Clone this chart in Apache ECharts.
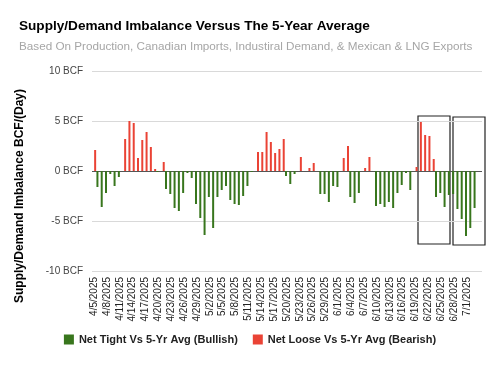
<!DOCTYPE html>
<html>
<head>
<meta charset="utf-8">
<script src="https://cdn.jsdelivr.net/npm/echarts@6/dist/echarts.min.js"></script>
<style>
  html, body { margin: 0; padding: 0; background: #fff; }
  #chart { width: 500px; height: 365px; }
</style>
</head>
<body>
<div id="chart"></div>
<script>
// dates, one bar per day (7/4 has no reading yet)
const dates = [
  '4/5/2025','4/6/2025','4/7/2025','4/8/2025','4/9/2025','4/10/2025','4/11/2025','4/12/2025','4/13/2025','4/14/2025',
  '4/15/2025','4/16/2025','4/17/2025','4/18/2025','4/19/2025','4/20/2025','4/21/2025','4/22/2025','4/23/2025','4/24/2025',
  '4/25/2025','4/26/2025','4/27/2025','4/28/2025','4/29/2025','4/30/2025','5/1/2025','5/2/2025','5/3/2025','5/4/2025',
  '5/5/2025','5/6/2025','5/7/2025','5/8/2025','5/9/2025','5/10/2025','5/11/2025','5/12/2025','5/13/2025','5/14/2025',
  '5/15/2025','5/16/2025','5/17/2025','5/18/2025','5/19/2025','5/20/2025','5/21/2025','5/22/2025','5/23/2025','5/24/2025',
  '5/25/2025','5/26/2025','5/27/2025','5/28/2025','5/29/2025','5/30/2025','5/31/2025','6/1/2025','6/2/2025','6/3/2025',
  '6/4/2025','6/5/2025','6/6/2025','6/7/2025','6/8/2025','6/9/2025','6/10/2025','6/11/2025','6/12/2025','6/13/2025',
  '6/14/2025','6/15/2025','6/16/2025','6/17/2025','6/18/2025','6/19/2025','6/20/2025','6/21/2025','6/22/2025','6/23/2025',
  '6/24/2025','6/25/2025','6/26/2025','6/27/2025','6/28/2025','6/29/2025','6/30/2025','7/1/2025','7/2/2025','7/3/2025',
  '7/4/2025'
];

// BCF/day vs 5-yr average (negative = tight, positive = loose)
const imbalance = [
  2.1, -1.6, -3.6, -2.2, -0.3, -1.5, -0.6, 3.2, 5.0, 4.8,
  1.3, 3.1, 3.9, 2.4, 0.2, -0.1, 0.9, -1.8, -2.3, -3.7,
  -4.0, -2.2, -0.2, -0.7, -3.3, -4.7, -6.4, -2.6, -5.7, -2.6,
  -1.9, -1.5, -2.9, -3.3, -3.4, -2.5, -1.5, -0.1, 1.9, 1.9,
  3.9, 2.9, 1.8, 2.2, 3.2, -0.5, -1.3, -0.3, 1.4, null,
  0.3, 0.8, null, -2.3, -2.3, -3.1, -1.5, -1.6, 1.3, 2.5,
  -2.6, -3.2, -2.2, 0.3, 1.4, null, -3.5, -3.3, -3.6, -3.1,
  -3.7, -2.2, -1.4, -0.2, -1.9, 0.4, 4.9, 3.6, 3.5, 1.2,
  -2.6, -2.2, -3.6, -2.4, -2.3, -3.8, -4.8, -6.5, -5.7, -3.7,
  null
];

const yTicks = [-10, -5, 0, 5, 10];
const seriesNames = ['Net Tight Vs 5-Yr Avg (Bullish)', 'Net Loose Vs 5-Yr Avg (Bearish)'];

const tight = imbalance.map(v => (v !== null && v < 0) ? v : null);
const loose = imbalance.map(v => (v !== null && v > 0) ? v : null);

const font = '"Liberation Sans", Arial, sans-serif';
const chart = echarts.init(document.getElementById('chart'));

const option = {
  animation: false,
  textStyle: { fontFamily: font },
  title: {
    text: 'Supply/Demand Imbalance Versus The 5-Year Average',
    subtext: 'Based On Production, Canadian Imports, Industiral Demand, & Mexican & LNG Exports',
    left: 14,
    top: 14,
    itemGap: 8,
    textStyle: { fontFamily: font, fontSize: 13.6, fontWeight: 'bold', color: '#000' },
    subtextStyle: { fontFamily: font, fontSize: 11.7, color: '#a6a6a6' }
  },
  legend: {
    data: seriesNames,
    bottom: 15,
    left: 'center',
    itemWidth: 10,
    itemHeight: 10,
    itemGap: 15,
    icon: 'rect',
    textStyle: { fontFamily: font, fontSize: 11, fontWeight: 'bold', color: '#222' }
  },
  grid: { left: 92, right: 18, top: 71, bottom: 94 },
  xAxis: {
    type: 'category',
    data: dates,
    axisLine: { show: false },
    axisTick: { show: false },
    axisLabel: {
      rotate: 90,
      fontSize: 10,
      color: '#222',
      margin: 6,
      interval: (i) => i % 3 === 0 && i < 90
    }
  },
  yAxis: {
    type: 'value',
    min: yTicks[0],
    max: yTicks[yTicks.length - 1],
    interval: 5,
    name: 'Supply/Demand Imbalance BCF/(Day)',
    nameLocation: 'middle',
    nameRotate: 90,
    nameGap: 66,
    nameTextStyle: { fontFamily: font, fontSize: 12, fontWeight: 'bold', color: '#000', padding: [0, 50, 0, 0] },
    axisLine: { show: false },
    axisTick: { show: false },
    axisLabel: { fontSize: 10, color: '#444', margin: 9, formatter: v => v + ' BCF' },
    splitLine: { lineStyle: { color: ['#d9d9d9', '#d9d9d9', '#555', '#d9d9d9', '#d9d9d9'], width: 1 } }
  },
  series: [
    {
      name: seriesNames[0],
      type: 'bar',
      data: tight,
      barWidth: 2,
      barGap: '0%',
      itemStyle: { color: '#38761d' }
    },
    {
      name: seriesNames[1],
      type: 'bar',
      data: loose,
      barWidth: 2,
      itemStyle: { color: '#ea4335' }
    }
  ],
  graphic: [
    { type: 'rect', shape: { x: 418, y: 116, width: 32, height: 128 }, style: { fill: 'none', stroke: '#222', lineWidth: 1.2 } },
    { type: 'rect', shape: { x: 453, y: 117, width: 32, height: 128 }, style: { fill: 'none', stroke: '#222', lineWidth: 1.2 } }
  ]
};

chart.setOption(option);
</script>
</body>
</html>
